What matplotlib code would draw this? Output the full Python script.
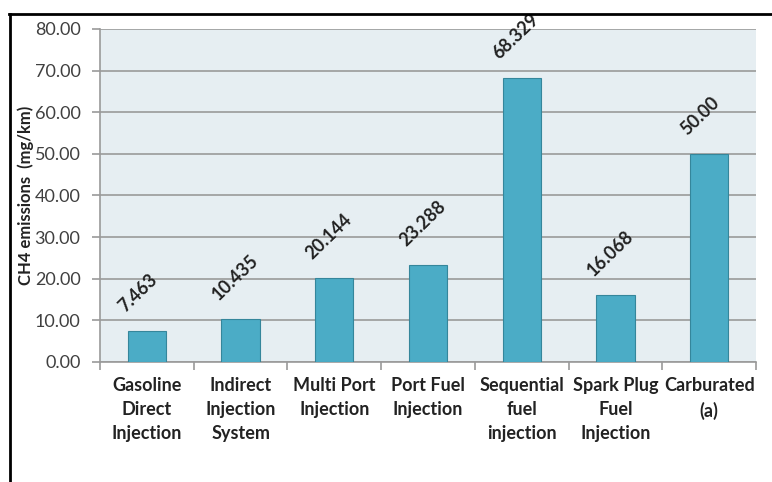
import numpy as np
import matplotlib
matplotlib.use("Agg")
import matplotlib.pyplot as plt
from matplotlib.lines import Line2D

# data
categories = ["Gasoline\nDirect\nInjection", "Indirect\nInjection\nSystem", "Multi Port\nInjection",
              "Port Fuel\nInjection", "Sequential\nfuel\ninjection", "Spark Plug\nFuel\nInjection",
              "Carburated\n(a)"]
values = [7.463, 10.435, 20.144, 23.288, 68.329, 16.068, 50.00]
value_labels = ["7.463", "10.435", "20.144", "23.288", "68.329", "16.068", "50.00"]
yticks = [0, 10, 20, 30, 40, 50, 60, 70, 80]

plt.rcParams['font.family'] = ['Lato', 'DejaVu Sans']

fig = plt.figure(figsize=(7.72, 4.82), dpi=100)
ax = fig.add_axes([100/772, 1-362/482, 656/772, 333/482])

x = np.arange(len(categories))
ax.bar(x, values, width=0.41, color='#4bacc6', edgecolor='#35869b', linewidth=0.8, zorder=3)

for xi, v, lab in zip(x, values, value_labels):
    ax.annotate(lab, (xi, v), xytext=(-22, 18), textcoords='offset pixels',
                rotation=44, rotation_mode='anchor', ha='left', va='baseline',
                fontsize=13, fontweight='bold', color='#222222')

ax.set_xlim(-0.5, len(categories) - 0.5)
ax.set_ylim(0, 80)
ax.set_facecolor('#e6eef2')
ax.set_yticks(yticks)
ax.set_yticklabels([f"{t:.2f}" for t in yticks], fontsize=13, color='#404040')
ax.yaxis.grid(True, color='#9a9a9a', linewidth=1.2, zorder=0)
ax.set_axisbelow(True)

ax.set_xticks(np.arange(len(categories) + 1) - 0.5)
ax.set_xticklabels([])
ax.set_xticks(x, minor=True)
ax.set_xticklabels(categories, minor=True, fontsize=13, fontweight='bold',
                   color='#222222', linespacing=1.48, va='top')
ax.tick_params(axis='x', which='minor', length=0, pad=11)
ax.tick_params(axis='x', which='major', length=6, color='#9a9a9a', width=1.2)
ax.tick_params(axis='y', length=6, color='#9a9a9a', width=1.2, pad=8)

for s in ['top', 'right']:
    ax.spines[s].set_visible(False)
for s in ['left', 'bottom']:
    ax.spines[s].set_color('#9a9a9a')
    ax.spines[s].set_linewidth(1.2)

ax.set_ylabel("CH4 emissions  (mg/km)", fontsize=12, fontweight='bold', color='#222222')
ax.yaxis.set_label_coords(-0.1, 0.5)

# frame lines around the figure
fig.add_artist(Line2D([9/772, 1], [1-14/482, 1-14/482], color='black', linewidth=2))
fig.add_artist(Line2D([10/772, 10/772], [0, 1-14/482], color='black', linewidth=2))

fig.savefig("out.png", dpi=100)
